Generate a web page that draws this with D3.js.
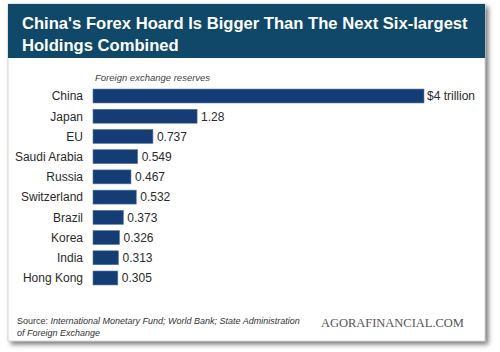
<!DOCTYPE html>
<html lang="en">
<head>
    <meta charset="UTF-8">
    <title>China's Forex Hoard</title>
    <script src="https://d3js.org/d3.v7.min.js"></script>
    <style>
        body { margin: 0; background: #fff; }
        svg { display: block; }
    </style>
</head>
<body>
    <svg id="chart"></svg>
    <script>
        // Data (trillion USD)
        var countries = ["China", "Japan", "EU", "Saudi Arabia", "Russia", "Switzerland", "Brazil", "Korea", "India", "Hong Kong"];
        var reserves = [4.07, 1.28, 0.737, 0.549, 0.467, 0.532, 0.373, 0.326, 0.313, 0.305];
        var valueLabels = ["$4 trillion", "1.28", "0.737", "0.549", "0.467", "0.532", "0.373", "0.326", "0.313", "0.305"];

        var W = 500, H = 352;
        var svg = d3.select("#chart").attr("width", W).attr("height", H);

        // drop shadow for the card
        var defs = svg.append("defs");
        var f = defs.append("filter").attr("id", "shadow")
            .attr("x", "-5%").attr("y", "-5%").attr("width", "115%").attr("height", "115%");
        f.append("feDropShadow").attr("dx", 3).attr("dy", 3).attr("stdDeviation", 2.5)
            .attr("flood-color", "#000").attr("flood-opacity", 0.55);

        var card = {x: 8, y: 4, w: 477, h: 337};
        svg.append("rect")
            .attr("x", card.x).attr("y", card.y)
            .attr("width", card.w).attr("height", card.h)
            .attr("fill", "#fff").attr("stroke", "#bbb").attr("stroke-width", 0.6)
            .attr("filter", "url(#shadow)");

        // header band
        svg.append("rect")
            .attr("x", card.x).attr("y", card.y)
            .attr("width", card.w).attr("height", 54)
            .attr("fill", "#0f4868");

        var title = svg.append("text")
            .attr("font-family", "Liberation Sans, Arial, sans-serif")
            .attr("font-weight", "bold")
            .attr("font-size", 16.6)
            .attr("fill", "#fff");
        title.append("tspan").attr("x", 22).attr("y", 29).text("China's Forex Hoard Is Bigger Than The Next Six-largest");
        title.append("tspan").attr("x", 22).attr("y", 51).text("Holdings Combined");

        // subtitle
        svg.append("text")
            .attr("x", 95).attr("y", 81)
            .attr("font-family", "Liberation Sans, Arial, sans-serif")
            .attr("font-style", "italic")
            .attr("font-size", 9.5)
            .attr("fill", "#444")
            .text("Foreign exchange reserves");

        // scales
        var x = d3.scaleLinear().domain([0, 4.07]).range([93, 424]);
        var y = d3.scaleBand().domain(countries).range([86, 288]).paddingInner(0.31).paddingOuter(0.15);

        var g = svg.append("g");

        g.selectAll(".bar")
            .data(countries)
            .enter().append("rect")
            .attr("class", "bar")
            .attr("x", x(0))
            .attr("y", d => y(d))
            .attr("width", (d, i) => x(reserves[i]) - x(0))
            .attr("height", y.bandwidth())
            .attr("fill", "#143d75")
            .attr("stroke", "#5a7aa3")
            .attr("stroke-width", 0.6);

        // category labels
        g.selectAll(".cat")
            .data(countries)
            .enter().append("text")
            .attr("x", 83)
            .attr("y", d => y(d) + y.bandwidth() / 2 + 4.3)
            .attr("text-anchor", "end")
            .attr("font-family", "Liberation Sans, Arial, sans-serif")
            .attr("font-size", 12)
            .attr("fill", "#2a2a2a")
            .text(d => d);

        // value labels
        g.selectAll(".val")
            .data(countries)
            .enter().append("text")
            .attr("x", (d, i) => x(reserves[i]) + (i === 0 ? 3 : 4))
            .attr("y", d => y(d) + y.bandwidth() / 2 + 4.3)
            .attr("font-family", "Liberation Sans, Arial, sans-serif")
            .attr("font-size", 12)
            .attr("fill", "#2a2a2a")
            .text((d, i) => valueLabels[i]);

        // source
        var src = svg.append("text")
            .attr("font-family", "Liberation Sans, Arial, sans-serif")
            .attr("font-size", 9)
            .attr("fill", "#333");
        var l1 = src.append("tspan").attr("x", 17).attr("y", 324);
        l1.append("tspan").text("Source: ");
        l1.append("tspan").attr("font-style", "italic").text("International Monetary Fund; World Bank; State Administration");
        src.append("tspan").attr("x", 17).attr("y", 336).attr("font-style", "italic").text("of Foreign Exchange");

        svg.append("text")
            .attr("x", 321).attr("y", 327)
            .attr("font-family", "Liberation Serif, Times New Roman, serif")
            .attr("font-size", 12.5)
            .attr("letter-spacing", 1.1)
            .attr("fill", "#555")
            .attr("textLength", 144)
            .text("AGORAFINANCIAL.COM");
    </script>
</body>
</html>
